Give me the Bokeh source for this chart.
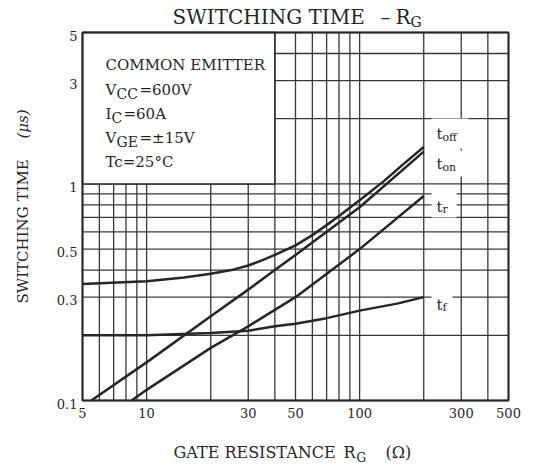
import numpy as np
from bokeh.plotting import figure
from bokeh.models import Range1d, Label
from bokeh.core.properties import value
from bokeh.embed import file_html
from bokeh.resources import INLINE

# ---- data ----
rg_off = [5, 10, 15, 20, 25, 30, 35, 40, 50, 60, 70, 80, 100, 130, 160, 200]
t_off = [0.345, 0.355, 0.37, 0.385, 0.40, 0.42, 0.445, 0.47, 0.52, 0.58, 0.645, 0.71, 0.84, 1.03, 1.23, 1.48]
rg_on = [5.5, 10, 20, 30, 40, 50, 100, 200]
t_on = [0.10, 0.15, 0.245, 0.325, 0.40, 0.47, 0.78, 1.41]
rg_r = [8.5, 10, 20, 30, 50, 100, 200]
t_r = [0.10, 0.112, 0.175, 0.22, 0.30, 0.50, 0.88]
rg_f = [5, 10, 20, 30, 40, 50, 70, 100, 150, 200]
t_f = [0.20, 0.20, 0.205, 0.21, 0.22, 0.226, 0.24, 0.26, 0.28, 0.30]

x_ticks = [5, 10, 30, 50, 100, 300, 500]
x_tick_labels = ["5", "10", "30", "50", "100", "300", "500"]
y_ticks = [0.1, 0.3, 0.5, 1, 3, 5]
y_tick_labels = ["0.1", "0.3", "0.5", "1", "3", "5"]
x_grid = [5, 6, 7, 8, 9, 10, 20, 30, 40, 50, 60, 70, 80, 90, 100, 200, 300, 400, 500]
y_grid = [0.1, 0.2, 0.3, 0.4, 0.5, 0.6, 0.7, 0.8, 0.9, 1, 2, 3, 4, 5]

INK = "#262626"
FONT = "DejaVu Serif"
W, H = 533, 468

# chart area in page pixels: x 82..508, y 32..400 (5..500 ohm, 0.1..5 us)
X0, X1, Y0, Y1 = 82, 508, 32, 400
x_lo, x_hi = x_grid[0], x_grid[-1]
y_lo, y_hi = y_grid[0], y_grid[-1]
def dx(px):
    return x_lo * 10 ** ((px - X0) / (X1 - X0) * np.log10(x_hi / x_lo))
def dy(py):
    return y_hi * 10 ** (-(py - Y0) / (Y1 - Y0) * np.log10(y_hi / y_lo))

p = figure(width=W, height=H, x_axis_type="log", y_axis_type="log",
           x_axis_location=None, y_axis_location=None,
           x_range=Range1d(dx(0), dx(W)), y_range=Range1d(dy(H), dy(0)),
           output_backend="svg", toolbar_location=None, min_border=0)
p.grid.visible = False
p.outline_line_color = None
p.background_fill_color = "white"
p.border_fill_color = "white"

# grid
p.segment(x0=x_grid, y0=[y_lo] * len(x_grid), x1=x_grid, y1=[y_hi] * len(x_grid),
          line_color="#383838", line_width=1.3)
p.segment(x0=[x_lo] * len(y_grid), y0=y_grid, x1=[x_hi] * len(y_grid), y1=y_grid,
          line_color="#383838", line_width=1.3)

# white conditions box (upper-left)
p.quad(left=[5], right=[40], bottom=[1], top=[5], fill_color="white",
       line_color=INK, line_width=1.5)

# white gaps behind curve labels (page px)
gaps = [(431, 468, 118, 148), (431, 463, 150, 176), (431, 456, 186, 217), (431, 452, 294, 315)]
p.quad(left=[dx(g[0]) for g in gaps], right=[dx(g[1]) for g in gaps],
       bottom=[dy(g[3]) for g in gaps], top=[dy(g[2]) for g in gaps],
       fill_color="white", line_color=None)

# chart border
p.quad(left=[x_lo], right=[x_hi], bottom=[y_lo], top=[y_hi], fill_color=None,
       line_color=INK, line_width=2)

# curves
for xs, ys in ((rg_off, t_off), (rg_on, t_on), (rg_r, t_r), (rg_f, t_f)):
    p.line(xs, ys, line_color=INK, line_width=2.5, line_join="round")

# tick labels
p.text(x=x_ticks, y=[y_lo] * len(x_ticks), text=x_tick_labels, y_offset=7,
       text_font=value(FONT), text_font_size="13px", text_color=INK,
       text_align="center", text_baseline="top")
p.text(x=[x_lo] * len(y_ticks), y=y_ticks, text=y_tick_labels, x_offset=-5, y_offset=3,
       text_font=value(FONT), text_font_size="13px", text_color=INK,
       text_align="right", text_baseline="middle")

def lab(px, py, s, size, angle=0, align="left", style="normal"):
    # py is the vertical centre of the text in page pixels
    p.add_layout(Label(x=dx(px), y=dy(py), text=s, text_font=FONT,
                       text_font_size=f"{size}px", text_color=INK,
                       text_font_style=style,
                       text_align=align, text_baseline="middle", angle=angle))

# curve labels
lab(436, 133, "t", 15); lab(442, 137, "off", 11)
lab(436, 163, "t", 15); lab(442, 167, "on", 11)
lab(436, 206, "t", 15); lab(442, 209, "r", 11)
lab(436, 304, "t", 15); lab(442, 307, "f", 11)

# conditions text
lab(105, 64, "COMMON EMITTER", 15)
lab(105, 89, "V", 15); lab(116, 93, "CC", 14); lab(139, 89, "=600V", 15)
lab(105, 113, "I", 15); lab(111, 117, "C", 14); lab(123, 113, "=60A", 15)
lab(105, 137.5, "V", 15); lab(116, 141.5, "GE", 14); lab(139, 137.5, "=\u00b115V", 15)
lab(105, 161, "Tc=25\u00b0C", 15)

# title
lab(172, 16, "SWITCHING TIME", 20)
lab(385, 16, "\u2013", 20, align="center")
lab(395, 16, "R", 20); lab(410, 21.5, "G", 14)

# x axis title
lab(173, 451.5, "GATE RESISTANCE", 16)
lab(343, 451.5, "R", 16); lab(356, 457.5, "G", 12)
lab(385, 451.5, "(\u03a9)", 16)

# y axis title
lab(22, 303, "SWITCHING TIME", 15, angle=np.pi / 2)
lab(22, 138, "(\u03bcs)", 15, angle=np.pi / 2, style="italic")

open("out.html", "w").write(file_html(p, INLINE))
